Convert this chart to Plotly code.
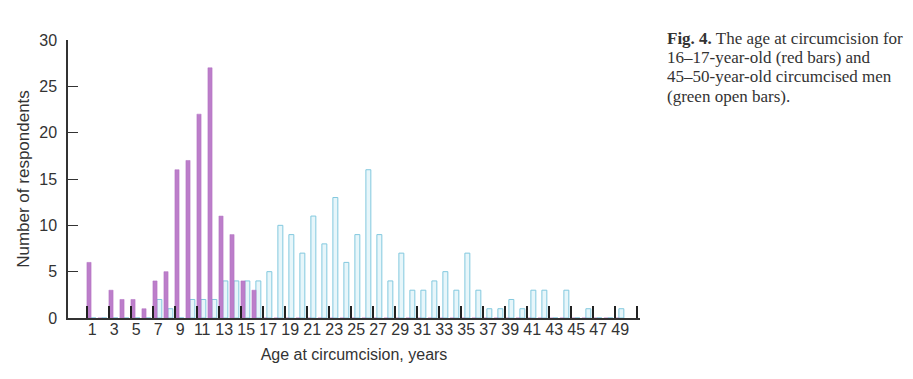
import plotly.graph_objects as go

ages = list(range(1, 50))
young_counts = [6, 0, 3, 2, 2, 1, 4, 5, 16, 17, 22, 27, 11, 9, 4, 3] + [0] * 33
older_counts = [0, 0, 0, 0, 0, 0, 2, 1, 0, 2, 2, 2, 4, 4, 4, 4, 5, 10, 9, 7,
                11, 8, 13, 6, 9, 16, 9, 4, 7, 3, 3, 4, 5, 3, 7, 3, 1, 1, 2, 1,
                3, 3, 0, 3, 0, 1, 0, 0, 1]
x_tick_labels = list(range(1, 50, 2))
y_tick_values = [0, 5, 10, 15, 20, 25, 30]
caption_lines = [
    "<b>Fig. 4.</b> The age at circumcision for",
    "16–17-year-old (red bars) and",
    "45–50-year-old circumcised men",
    "(green open bars).",
]

fig = go.Figure()
fig.add_trace(go.Bar(
    x=ages, y=older_counts, width=0.45, offset=-0.12,
    marker=dict(color="rgba(228,245,250,0.9)",
                line=dict(color="rgb(130,200,222)", width=1)),
    name="45–50-year-old",
))
fig.add_trace(go.Bar(
    x=ages, y=young_counts, width=0.38, offset=-0.48,
    marker=dict(color="rgb(188,126,202)",
                line=dict(color="rgb(178,112,194)", width=0.5)),
    name="16–17-year-old",
))

axis_font = dict(family="Liberation Sans, Arial, sans-serif", size=16, color="#333")

fig.update_layout(
    width=905, height=371,
    margin=dict(l=60, r=273, t=32, b=61, autoexpand=False),
    plot_bgcolor="white", paper_bgcolor="white",
    showlegend=False,
    barmode="overlay",
    font=axis_font,
    xaxis=dict(
        range=[-1.2, 50.8], automargin=False,
        tickmode="array", tickvals=x_tick_labels,
        ticktext=[str(v) for v in x_tick_labels],
        ticks="", showgrid=False, zeroline=False,
        showline=True, linecolor="#333", linewidth=1.5,
        tickfont=axis_font, ticklabelstandoff=-4,
        minor=dict(tick0=0.5, dtick=2, ticks="inside", ticklen=12,
                   tickcolor="#222", tickwidth=1.5, showgrid=False),
        title=dict(text="Age at circumcision, years", font=axis_font, standoff=12),
    ),
    yaxis=dict(
        range=[0, 30], automargin=False,
        tickmode="array", tickvals=y_tick_values,
        ticks="inside", ticklen=10, tickcolor="#333", tickwidth=1,
        showgrid=False, zeroline=False,
        showline=True, linecolor="#333", linewidth=1.5,
        tickfont=axis_font, ticklabelstandoff=6,
        title=dict(text="Number of respondents",
                   font=dict(family="Liberation Sans, Arial, sans-serif", size=17, color="#333"),
                   standoff=5),
    ),
)

line_y = [1.007, 0.937, 0.867, 0.797]
for txt, yy in zip(caption_lines, line_y):
    fig.add_annotation(
        text=txt, xref="paper", yref="paper", x=1.0437, y=yy,
        xanchor="left", yanchor="middle", showarrow=False, align="left",
        font=dict(family="Liberation Serif, Times New Roman, serif", size=17, color="#333"),
    )

fig.write_html("out.html")
